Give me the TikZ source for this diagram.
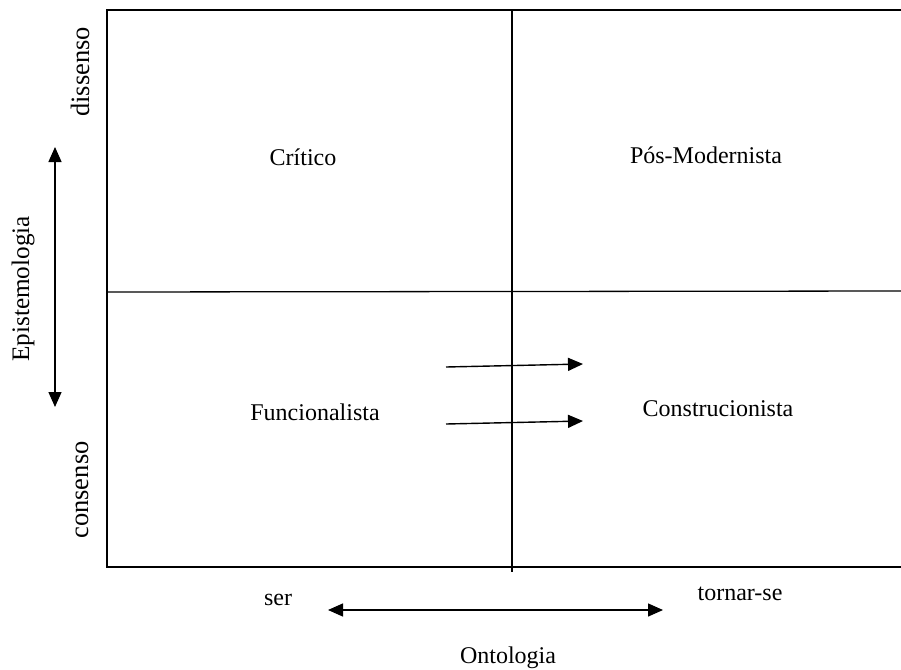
\documentclass[tikz,border=0pt]{standalone}
\usepackage{fontspec}
\setmainfont{Liberation Serif}
\usetikzlibrary{arrows.meta}
\tikzset{
  lbl/.style={font=\fontsize{24}{28}\selectfont, inner sep=0pt},
  sidelbl/.style={font=\fontsize{26.5}{30}\selectfont, inner sep=0pt, rotate=90},
  frame/.style={line width=2.8pt, line cap=rect},
  divider/.style={line width=1.3pt},
  arr/.style={line width=1.4pt, -{Triangle[length=15pt,width=13pt]}},
  darr/.style={line width=1.4pt, {Triangle[length=15pt,width=13pt]}-{Triangle[length=15pt,width=13pt]}}
}
\begin{document}
\begin{tikzpicture}[x=1pt,y=-1pt]
\useasboundingbox (0,0) rectangle (901,669);
% frame
\draw[frame] (925,10) -- (107,10) -- (107,567) -- (925,567);
% dividers
\coordinate (vtop) at (512,10);
\coordinate (vbot) at (512,572);
\coordinate (hl) at (107,292);
\coordinate (hr) at (905,291);
\draw[divider] (vtop) -- (vbot);
\draw[divider] (hl) -- (hr);
% quadrant labels
\node[lbl] (crit) at (303,157) {Crítico};
\node[lbl] (pos) at (706,155) {Pós-Modernista};
\node[lbl] (func) at (315,412) {Funcionalista};
\node[lbl] (cons) at (718,409) {Construcionista};
% middle arrows
\coordinate (a1s) at (446,367);
\coordinate (a1e) at (583,364);
\coordinate (a2s) at (446,424);
\coordinate (a2e) at (583,421);
\draw[arr] (a1s) -- (a1e);
\draw[arr] (a2s) -- (a2e);
% epistemology axis
\node[lbl, font=\fontsize{25.2}{29}\selectfont, rotate=90] (epi) at (23,289) {Epistemologia};
\node[sidelbl] (dis) at (80,72) {dissenso};
\node[sidelbl] (con) at (82,490) {consenso};
\coordinate (et) at (55,147);
\coordinate (eb) at (55,407);
\draw[darr] (eb) -- (et);
% ontology axis
\node[lbl] (ser) at (278,600) {ser};
\node[lbl] (torn) at (740,594) {tornar-se};
\node[lbl] (onto) at (508,658) {Ontologia};
\coordinate (ol) at (328,610);
\coordinate (or) at (663,610);
\draw[darr] (ol) -- (or);
\end{tikzpicture}
\end{document}
